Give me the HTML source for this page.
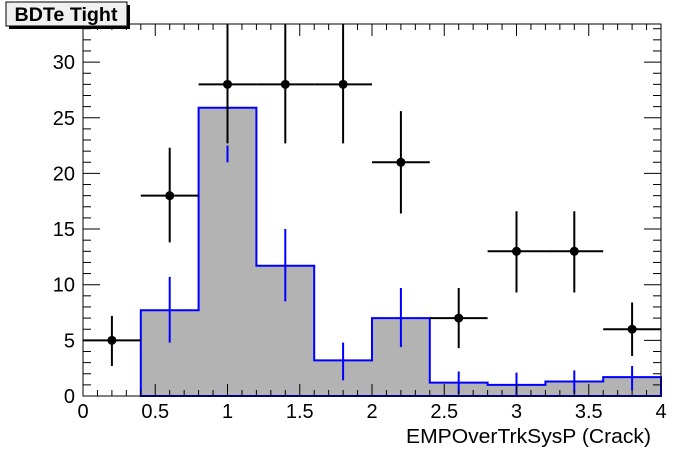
<!DOCTYPE html>
<html><head><style>body{margin:0;background:#fff}svg{display:block}</style></head><body>
<svg id="s" width="696" height="472" xmlns="http://www.w3.org/2000/svg" font-family="Liberation Sans, sans-serif">
<rect width="696" height="472" fill="#fff"/>
<path d="M140.8,396V310.3H198.6V107.7H256.4V265.8H314.2V360.4H372V318.1H429.8V382.6H487.6V384.9H545.4V381.5H603.2V377.1H661V396Z" fill="#b3b3b3" stroke="#0000ff" stroke-width="2"/>
<g stroke="#0000ff" stroke-width="2">
<line x1="169.7" y1="342.6" x2="169.7" y2="276.9"/>
<line x1="227.5" y1="162.3" x2="227.5" y2="145.6"/>
<line x1="285.3" y1="301.4" x2="285.3" y2="229"/>
<line x1="343.1" y1="380.4" x2="343.1" y2="342.6"/>
<line x1="400.9" y1="347" x2="400.9" y2="288"/>
<line x1="458.7" y1="393.8" x2="458.7" y2="371.5"/>
<line x1="516.5" y1="396" x2="516.5" y2="372.6"/>
<line x1="574.3" y1="393.8" x2="574.3" y2="370.4"/>
<line x1="632.1" y1="390.4" x2="632.1" y2="366"/>
</g>
<g id="ax" stroke="#000" stroke-width="1" fill="none"><rect x="83" y="24" width="578" height="372"/></g>
<g id="pts" stroke="#000" stroke-width="2"></g>
<g font-size="20" fill="#000" text-anchor="end" id="yl"></g>
<g font-size="20" fill="#000" text-anchor="middle" id="xl"></g>
<text x="651" y="443" font-size="20" text-anchor="end" textLength="245" lengthAdjust="spacingAndGlyphs">EMPOverTrkSysP (Crack)</text>
<rect x="9" y="5" width="121" height="24" fill="#000"/>
<rect x="6" y="2" width="121" height="24" fill="#f0f0f0" stroke="#000" stroke-width="1"/>
<text x="66" y="21" font-size="19" font-weight="bold" text-anchor="middle" textLength="103" lengthAdjust="spacingAndGlyphs">BDTe Tight</text>
</svg>
<script>
var NS="http://www.w3.org/2000/svg";
function X(v){return 83+144.5*v}function Y(v){return 396-11.13*v}
function el(p,t,a){var e=document.createElementNS(NS,t);for(var k in a)e.setAttribute(k,a[k]);document.getElementById(p).appendChild(e);return e}
for(var i=0;i<=40;i++){var x=X(i/10),L=(i%5==0)?12:6;el("ax","line",{x1:x,y1:396,x2:x,y2:396-L});el("ax","line",{x1:x,y1:24,x2:x,y2:24+L});}
for(var i=0;i<=33;i++){var y=Y(i),L=(i%5==0)?17:8;el("ax","line",{x1:83,y1:y,x2:83+L,y2:y});el("ax","line",{x1:661,y1:y,x2:661-L,y2:y});}
for(var v=0;v<=30;v+=5){el("yl","text",{x:75,y:Y(v)+7}).textContent=v;}
var xs=["0","0.5","1","1.5","2","2.5","3","3.5","4"];
for(var i=0;i<9;i++){el("xl","text",{x:X(i*0.5),y:418}).textContent=xs[i];}
var d=[[0.2,5,2.7,7.2],[0.6,18,13.8,22.3],[1,28,22.7,34],[1.4,28,22.7,34],[1.8,28,22.7,34],[2.2,21,16.4,25.6],[2.6,7,4.3,9.7],[3,13,9.3,16.6],[3.4,13,9.3,16.6],[3.8,6,3.6,8.4]];
d.forEach(function(p){var x=X(p[0]),y=Y(p[1]);var lo=Math.min(396,Y(p[2])),hi=Math.max(24,Y(p[3]));
el("pts","line",{x1:X(p[0]-0.2),y1:y,x2:X(p[0]+0.2),y2:y});
el("pts","line",{x1:x,y1:lo,x2:x,y2:hi});
el("pts","circle",{cx:x,cy:y,r:4.5,fill:"#000",stroke:"none"});});
</script>
</body></html>
